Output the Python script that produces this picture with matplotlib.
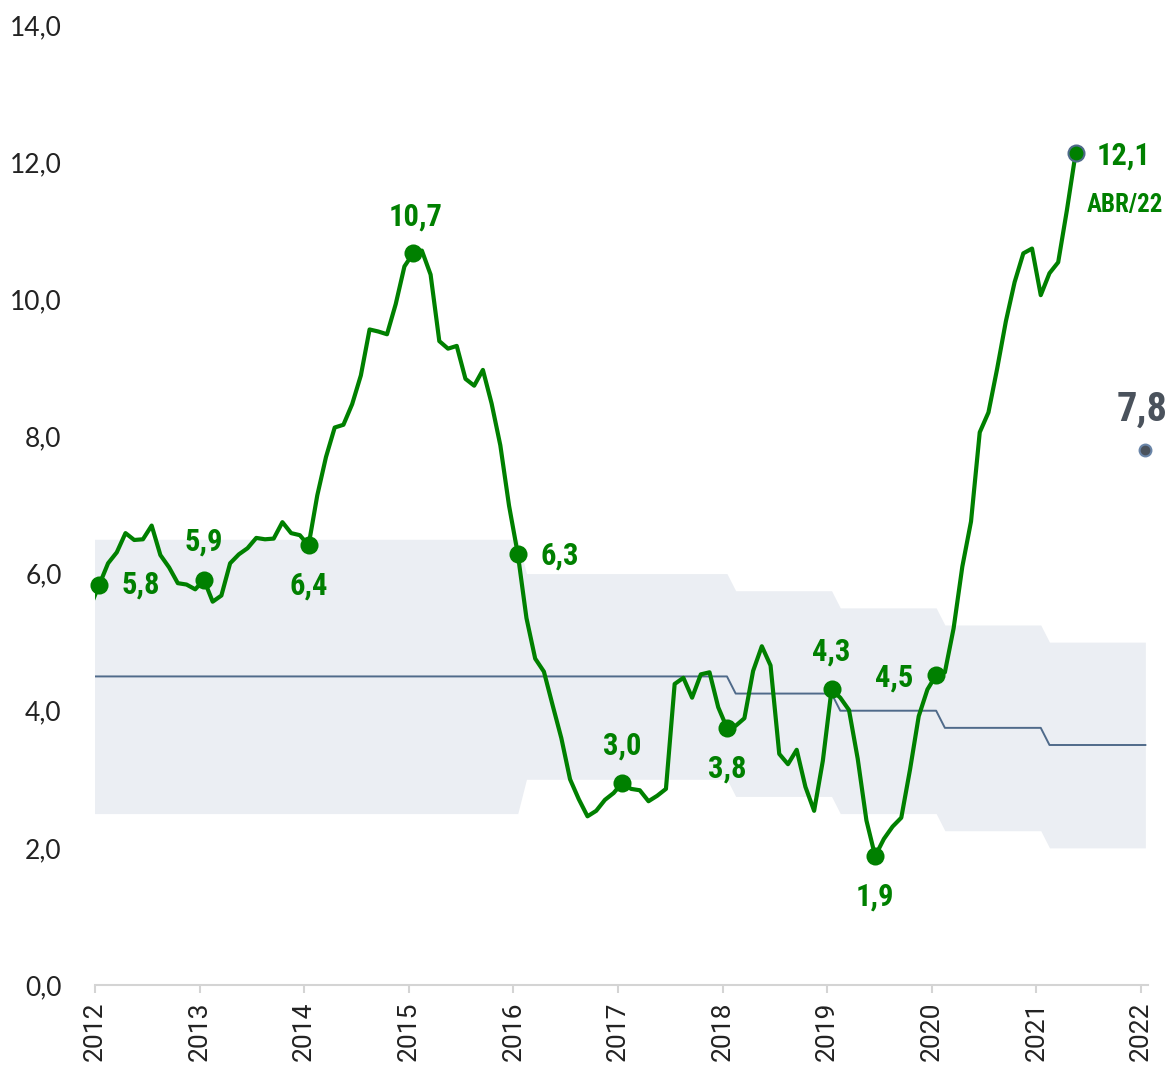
import numpy as np
import matplotlib.pyplot as plt
from matplotlib import font_manager as fm

# IPCA acumulado em 12 meses (%), nov/2012 ate abr/2022
ipca = [5.53, 5.84,
        6.15, 6.31, 6.59, 6.49, 6.50, 6.70, 6.27, 6.09, 5.86, 5.84, 5.77, 5.91,
        5.59, 5.68, 6.15, 6.28, 6.37, 6.52, 6.50, 6.51, 6.75, 6.59, 6.56, 6.41,
        7.14, 7.70, 8.13, 8.17, 8.47, 8.89, 9.56, 9.53, 9.49, 9.93, 10.48, 10.67,
        10.71, 10.36, 9.39, 9.28, 9.32, 8.84, 8.74, 8.97, 8.48, 7.87, 6.99, 6.29,
        5.35, 4.76, 4.57, 4.08, 3.60, 3.00, 2.71, 2.46, 2.54, 2.70, 2.80, 2.95,
        2.86, 2.84, 2.68, 2.76, 2.86, 4.39, 4.48, 4.19, 4.53, 4.56, 4.05, 3.75,
        3.78, 3.89, 4.58, 4.94, 4.66, 3.37, 3.22, 3.43, 2.89, 2.54, 3.27, 4.31,
        4.19, 4.01, 3.30, 2.40, 1.88, 2.13, 2.31, 2.44, 3.14, 3.92, 4.31, 4.52,
        4.56, 5.20, 6.10, 6.76, 8.06, 8.35, 8.99, 9.68, 10.25, 10.67, 10.74, 10.06,
        10.38, 10.54, 11.30, 12.13]

# meta de inflacao por ano (centro e tolerancia)
meta_anos = [2012, 2013, 2014, 2015, 2016, 2017, 2018, 2019, 2020, 2021, 2022]
meta_centro = [4.5, 4.5, 4.5, 4.5, 4.5, 4.5, 4.5, 4.25, 4.0, 3.75, 3.5]
meta_tol = [2.0, 2.0, 2.0, 2.0, 2.0, 1.5, 1.5, 1.5, 1.5, 1.5, 1.5]
meses_por_ano = [2] + [12] * 10

# pontos destacados: indice na serie ipca
destaques = [1, 13, 25, 37, 49, 61, 73, 85, 90, 97, 113]
desloc = [(41, 0), (0, 38), (0, -40), (2, 37), (42, -2), (0, 37),
          (0, -41), (0, 38), (0, -40), (-42, -2), (48, -2)]

expectativa = 7.8
x_labels = [str(a) for a in range(2012, 2023)]
y_ticks = [0, 2, 4, 6, 8, 10, 12, 14]

verde = '#008000'
cinza_azul = '#4f6a8a'


def escolhe_fonte(cands):
    for c in cands:
        try:
            fm.findfont(fm.FontProperties(family=c, weight='bold', stretch='condensed'),
                        fallback_to_default=False)
            return c
        except ValueError:
            pass
    return 'DejaVu Sans'


fonte_cond = escolhe_fonte(['Liberation Sans Narrow', 'Roboto Condensed',
                            'Noto Sans Condensed', 'Open Sans Condensed',
                            'DejaVu Sans Condensed', 'Noto Sans', 'Roboto'])
fonte_rot = [fonte_cond, 'DejaVu Sans']

t = 2012 + (np.arange(len(ipca)) - 0.5) / 12
centro = np.repeat(meta_centro, meses_por_ano)
tol = np.repeat(meta_tol, meses_por_ano)
t_meta = 2012 + (np.arange(len(centro)) - 0.5) / 12

fig = plt.figure(figsize=(11.68, 10.70), dpi=100)
ax = fig.add_axes([95 / 1168, 85 / 1070, 1073 / 1168, 960 / 1070])

ax.fill_between(t_meta, centro - tol, centro + tol, color='#ebeef3', lw=0, zorder=1)
ax.plot(t_meta, centro, color=cinza_azul, lw=1.4, zorder=2)

ax.plot(t, ipca, color=verde, lw=3.0, solid_joinstyle='round',
        solid_capstyle='round', zorder=3)

rot_kw = dict(fontweight='bold', fontstretch='condensed', family=fonte_rot,
              ha='center', va='center', annotation_clip=False)

for i, (dx, dy) in zip(destaques, desloc):
    v = ipca[i]
    borda = cinza_azul if i == len(ipca) - 1 else verde
    ax.plot(t[i], v, 'o', ms=11.5, color=verde, mec=borda, mew=1.5,
            zorder=4, clip_on=False)
    ax.annotate(f"{v:.1f}".replace('.', ','), (t[i], v), xytext=(dx, dy),
                textcoords='offset pixels', fontsize=22, color=verde, **rot_kw)

ultimo = len(ipca) - 1
ax.annotate('ABR/22', (t[ultimo], ipca[ultimo]), xytext=(49, -52),
            textcoords='offset pixels', fontsize=18, color=verde, **rot_kw)

# expectativa para 2022
t_exp = t_meta[-1]
ax.plot(t_exp, expectativa, 'o', ms=8.5, color='#4a525c', mec='#6a85a8',
        mew=1.5, zorder=4, clip_on=False)
ax.annotate(f"{expectativa:.1f}".replace('.', ','), (t_exp, expectativa),
            xytext=(-3, 40), textcoords='offset pixels', fontsize=29,
            color='#4a525c', **rot_kw)

# rotulos da meta, cortados na borda direita
for v, yy in [(meta_centro[-1] + meta_tol[-1], 5.3),
              (meta_centro[-1], 3.55), (meta_centro[-1] - meta_tol[-1], 1.85)]:
    ax.text(2022.25, yy, f"{v:.1f}".replace('.', ','), ha='left',
            va='center', fontsize=22, fontweight='bold', fontstretch='condensed',
            color='#a9b8cb', family=fonte_rot, clip_on=False)

ax.set_xlim(2012, 2012 + 1073 / 104.6)
ax.set_ylim(0, 14)

ax.set_yticks(y_ticks)
ax.set_yticklabels([f"{v:.1f}".replace('.', ',') for v in y_ticks],
                   family=['Lato', 'DejaVu Sans'], fontsize=19, color='#222222')
ax.tick_params(axis='y', length=0, pad=24)

ax.set_xticks(range(2012, 2023))
ax.set_xticklabels(x_labels, rotation=90, family=['Roboto', 'DejaVu Sans'],
                   fontsize=19, color='#222222')
ax.tick_params(axis='x', length=6, width=1.5, color='#d4d4d4', pad=6)

for s in ['top', 'right', 'left']:
    ax.spines[s].set_visible(False)
ax.spines['bottom'].set_color('#d4d4d4')
ax.spines['bottom'].set_linewidth(1.5)
ax.spines['bottom'].set_bounds(2012, 2022.07)

fig.savefig('out.png', dpi=100)
